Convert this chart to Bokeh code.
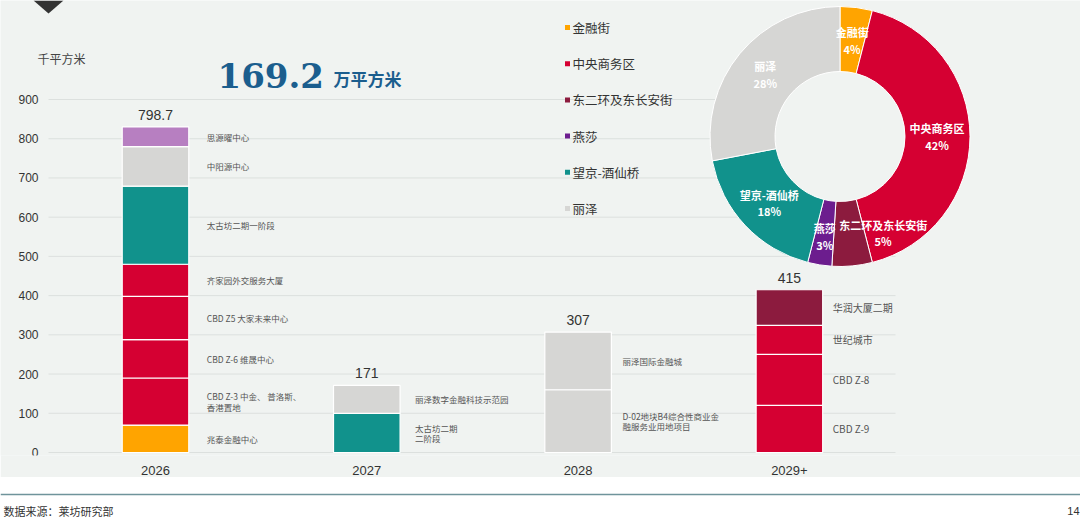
import numpy as np
from bokeh.plotting import figure
from bokeh.models import (ColumnDataSource, Range1d, LinearAxis, FixedTicker, PolyAnnotation)
from bokeh.layouts import column
from bokeh.embed import file_html
from bokeh.resources import INLINE
from bokeh.core.properties import value

# ---------------- data ----------------
years = ["2026", "2027", "2028", "2029+"]
year_totals = ["798.7", "171", "307", "415"]

projects_2026 = ["兆泰金融中心", "CBD Z-3 中金、 普洛斯、\n香港置地", "CBD Z-6 维晟中心",
                 "CBD Z5 大家未来中心", "齐家园外交服务大厦", "太古坊二期一阶段",
                 "中阳源中心", "思源曜中心"]
values_2026 = [70, 120, 98, 110, 82, 199, 101, 50]
districts_2026 = ["金融街", "中央商务区", "中央商务区", "中央商务区", "中央商务区",
                  "望京-酒仙桥", "丽泽", "燕莎"]

projects_2027 = ["太古坊二期\n二阶段", "丽泽数字金融科技示范园"]
values_2027 = [100, 71]
districts_2027 = ["望京-酒仙桥", "丽泽"]

projects_2028 = ["D-02地块B4综合性商业金\n融服务业用地项目", "丽泽国际金融城"]
values_2028 = [160, 147]
districts_2028 = ["丽泽", "丽泽"]

projects_2029 = ["CBD Z-9", "CBD Z-8", "世纪城市", "华润大厦二期"]
values_2029 = [120, 130, 74, 91]
districts_2029 = ["中央商务区", "中央商务区", "中央商务区", "东二环及东长安街"]

donut_districts = ["金融街", "中央商务区", "东二环及东长安街", "燕莎", "望京-酒仙桥", "丽泽"]
donut_shares = [4, 42, 5, 3, 18, 28]

y_ticks = [0, 100, 200, 300, 400, 500, 600, 700, 800, 900]

# ---------------- styles ----------------
BG = "#F0F3F1"
BLUE = "#1B5E8E"
bar_colors = {"金融街": "#FFA400", "中央商务区": "#D50032", "东二环及东长安街": "#8C1B3E",
              "燕莎": "#B77FC1", "望京-酒仙桥": "#11928C", "丽泽": "#D6D6D4"}
donut_colors = {"金融街": "#FFA400", "中央商务区": "#D50032", "东二环及东长安街": "#8C1B3E",
                "燕莎": "#6C1D8E", "望京-酒仙桥": "#11928C", "丽泽": "#D6D6D4"}
CJK = "Noto Sans CJK SC"
LAT = "Liberation Sans"

W, H_MAIN, H_FOOT = 1080, 477, 45

# pixel -> data helpers (layout only)
K = 353.0 / 900.0      # px per unit on y
XS = 211.3             # px per category on x
def X(px):
    return (px - 155.0) / XS
def Y(py):
    return (452.0 - py) / K

BAR_W = 0.315
label_gap = [18, 15, 11, 10]
label_size = ["8.5px", "8.5px", "8.5px", "10px"]

# ---------------- build segments ----------------
groups = [(projects_2026, values_2026, districts_2026),
          (projects_2027, values_2027, districts_2027),
          (projects_2028, values_2028, districts_2028),
          (projects_2029, values_2029, districts_2029)]
seg = dict(x=[], bottom=[], top=[], mid=[], name=[], color=[], lx=[], xoff=[], fs=[])
bar_tops = []
for i, (names, vals, dists) in enumerate(groups):
    base = 0.0
    for n, v, d in zip(names, vals, dists):
        seg["x"].append(i)
        seg["bottom"].append(base)
        seg["top"].append(base + v)
        seg["mid"].append(base + v / 2.0)
        seg["name"].append(n)
        seg["color"].append(bar_colors[d])
        seg["lx"].append(i + BAR_W / 2.0)
        seg["xoff"].append(label_gap[i])
        seg["fs"].append(label_size[i])
        base += v
    bar_tops.append(base)
src = ColumnDataSource(seg)

# ---------------- main figure ----------------
p = figure(width=W, height=H_MAIN, x_range=Range1d(X(0), X(W)), y_range=Range1d(Y(455), Y(0)),
           output_backend="svg", toolbar_location=None, x_axis_type=None, y_axis_type=None,
           min_border_left=0, min_border_right=0, min_border_top=0, min_border_bottom=22,
           background_fill_color=BG, border_fill_color=BG, outline_line_color=None)

xaxis = LinearAxis(ticker=FixedTicker(ticks=list(range(len(years)))),
                   major_label_overrides={i: y for i, y in enumerate(years)},
                   axis_line_color=None, major_tick_line_color=None, minor_tick_line_color=None,
                   major_label_standoff=4, major_label_text_font=LAT,
                   major_label_text_font_size="13px", major_label_text_color="#333333")
p.add_layout(xaxis, "below")

# y tick labels and grid lines
p.text(x=X(38), y=y_ticks, text=[str(t) for t in y_ticks], text_font=value(LAT),
       text_font_size="12px", text_color="#333333", text_align="right", text_baseline="middle")
p.segment(x0=X(48), x1=X(895), y0=y_ticks, y1=y_ticks, line_color="#DCE0DE", line_width=1)

# stacked bars
p.vbar(x="x", bottom="bottom", top="top", width=BAR_W, fill_color="color",
       line_color="white", line_width=1.2, source=src)
p.text(x="lx", y="mid", text="name", x_offset="xoff", text_font_size="fs", source=src,
       text_font=value(CJK), text_color="#555555", text_align="left", text_baseline="middle",
       text_line_height=0.85)

# totals
p.text(x=list(range(len(years))), y=bar_tops, text=year_totals, y_offset=-12,
       text_font=value(LAT), text_font_size="14px", text_color="#333333",
       text_align="center", text_baseline="middle")

# donut
frac = np.array(donut_shares, dtype=float) / sum(donut_shares)
cum = np.concatenate([[0.0], np.cumsum(frac)])
start = np.pi / 2 - 2 * np.pi * cum[:-1]
end = np.pi / 2 - 2 * np.pi * cum[1:]
mid = np.pi / 2 - 2 * np.pi * (cum[:-1] + frac / 2)
R_IN, R_OUT, R_LAB = 65, 130, 97
nudge_x = [0, 0, 34, 0, 0, 0]
nudge_y = [0, 0, 0, 4, 0, 0]
cx, cy = X(839.5), Y(136)
dsrc = ColumnDataSource(dict(
    start=start, end=end, color=[donut_colors[d] for d in donut_districts],
    lab=[f"{d}\n{s}%" for d, s in zip(donut_districts, donut_shares)],
    dx=R_LAB * np.cos(mid) + np.array(nudge_x), dy=-R_LAB * np.sin(mid) + np.array(nudge_y)))
p.scatter(x=[cx], y=[cy], size=2 * R_IN + 2, marker="circle", fill_color=BG, line_color=None)
p.annular_wedge(x=cx, y=cy, inner_radius=R_IN, outer_radius=R_OUT,
                inner_radius_units="screen", outer_radius_units="screen",
                start_angle="start", end_angle="end", direction="clock",
                fill_color="color", line_color="white", line_width=1, source=dsrc)
p.text(x=cx, y=cy, text="lab", x_offset="dx", y_offset="dy", source=dsrc,
       text_font=value(CJK), text_font_style="bold", text_font_size="11px",
       text_color="white", text_align="center", text_baseline="middle", text_line_height=1.05)

# legend (drawn manually: square + label per district)
leg_rows = [Y(27 + 36.2 * i) for i in range(len(donut_districts))]
p.scatter(x=X(567), y=leg_rows, marker="square", size=5,
          fill_color=[donut_colors[d] for d in donut_districts], line_color=None)
p.text(x=X(572), y=leg_rows, text=donut_districts, text_font=value(CJK),
       text_font_size="12.5px", text_color="#333333", text_align="left", text_baseline="middle")

# headline texts
p.text(x=[X(37)], y=[Y(58)], text=["千平方米"], text_font=value(CJK), text_font_size="12px",
       text_color="#444444", text_align="left", text_baseline="middle")
p.text(x=[X(217)], y=[Y(75)], text=["169.2"], text_font=value("DejaVu Serif"),
       text_font_style="bold", text_font_size="34px", text_color=BLUE,
       text_align="left", text_baseline="middle")
p.text(x=[X(333)], y=[Y(78)], text=["万平方米"], text_font=value(CJK), text_font_style="bold",
       text_font_size="17px", text_color=BLUE, text_align="left", text_baseline="middle")
p.add_layout(PolyAnnotation(xs=[X(33), X(63), X(48)], ys=[Y(0), Y(0), Y(13)],
                            fill_color="#333333", fill_alpha=1, line_color=None))

# ---------------- footer ----------------
f = figure(width=W, height=H_FOOT, x_range=Range1d(0, W), y_range=Range1d(H_FOOT, 0),
           output_backend="svg", toolbar_location=None, x_axis_type=None, y_axis_type=None,
           min_border=0, background_fill_color="white", border_fill_color="white",
           outline_line_color=None)
f.segment(x0=[0], x1=[W], y0=[17], y1=[17], line_color="#6F949B", line_width=1.5)
f.text(x=[3], y=[33], text=["数据来源：莱坊研究部"], text_font=value(CJK), text_font_size="11px",
       text_color="#333333", text_align="left", text_baseline="middle")
f.text(x=[1079], y=[33], text=["14"], text_font=value(LAT), text_font_size="11px",
       text_color="#333333", text_align="right", text_baseline="middle")

layout = column(p, f, spacing=0)
open("out.html", "w").write(file_html(layout, INLINE))
